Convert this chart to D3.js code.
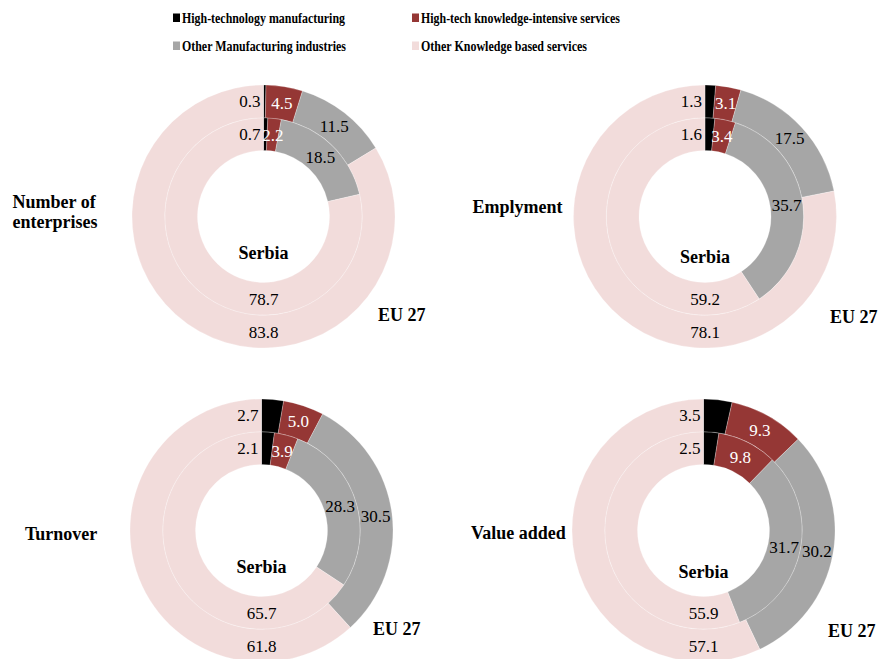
<!DOCTYPE html>
<html>
<head>
<meta charset="utf-8">
<script src="https://cdn.jsdelivr.net/npm/d3@7/dist/d3.min.js"></script>
<style>
    body { margin: 0; background: #fff; }
</style>
</head>
<body>
<div id="chart"></div>
<script>
const categories = [
    "High-technology manufacturing",
    "High-tech knowledge-intensive services",
    "Other Manufacturing industries",
    "Other Knowledge based services"
];
const indicators = ["Number of enterprises", "Emplyment", "Turnover", "Value added"];

// inner ring: Serbia, outer ring: EU 27 (shares in %)
const serbia = [
    [0.7, 2.2, 18.5, 78.7],
    [1.6, 3.4, 35.7, 59.2],
    [2.1, 3.9, 28.3, 65.7],
    [2.5, 9.8, 31.7, 55.9]
];
const eu27 = [
    [0.3, 4.5, 11.5, 83.8],
    [1.3, 3.1, 17.5, 78.1],
    [2.7, 5.0, 30.5, 61.8],
    [3.5, 9.3, 30.2, 57.1]
];

const colors = ["#000000", "#953735", "#a6a6a6", "#f2dcdb"];
const labelColors = ["#000", "#fff", "#000", "#000"];

const width = 879, height = 659;
const rHole = 66, rMid = 98.75, rOuter = 131.5;
const serif = "'Liberation Serif', 'Times New Roman', Times, 'DejaVu Serif', serif";

// panel layout
const panels = [
    {cx: 263.5, cy: 216.5, title: [["Number of", 12.5, 207.5], ["enterprises", 12.5, 227.5]], serbiaDy: 36, eu: [378, 315]},
    {cx: 705,   cy: 216.5, title: [["Emplyment", 472.5, 212.5]], serbiaDy: 40, eu: [830, 317]},
    {cx: 261.5, cy: 530.5, title: [["Turnover", 25, 540]], serbiaDy: 36, eu: [373, 629]},
    {cx: 703.5, cy: 530.5, title: [["Value added", 471, 539]], serbiaDy: 41, eu: [828, 631]}
];

const svg = d3.select("#chart").append("svg")
    .attr("width", width)
    .attr("height", height)
    .style("font-family", serif);

const color = d3.scaleOrdinal().domain(d3.range(categories.length)).range(colors);

const pie = d3.pie().value(d => d).sort(null);
const fmt = d3.format(".1f");

function drawRing(g, values, r0, r1) {
    const arcs = pie(values);
    const arc = d3.arc().innerRadius(r0).outerRadius(r1);
    const n = arcs.length;

    g.append("g").selectAll("path")
        .data(arcs)
        .join("path")
        .attr("d", arc)
        .attr("fill", (d, i) => color(i))
        .attr("stroke", "#fff")
        .attr("stroke-width", 0.25);

    // first slice label sits left of the top, last slice label sits at the bottom
    const pos = (d, i) => {
        if (i === 0) return arc.centroid({startAngle: 0, endAngle: 0});
        if (i === n - 1) return arc.centroid({startAngle: Math.PI, endAngle: Math.PI});
        return arc.centroid(d);
    };

    g.append("g").selectAll("text")
        .data(arcs)
        .join("text")
        .attr("x", (d, i) => i === 0 ? pos(d, i)[0] - 3 : pos(d, i)[0])
        .attr("y", (d, i) => pos(d, i)[1])
        .attr("dy", "0.35em")
        .attr("text-anchor", (d, i) => i === 0 ? "end" : "middle")
        .style("font-family", serif)
        .attr("font-size", 17)
        .attr("fill", (d, i) => labelColors[i])
        .text(d => fmt(d.data));
}

panels.forEach((p, k) => {
    const g = svg.append("g").attr("transform", `translate(${p.cx},${p.cy})`);
    drawRing(g, serbia[k], rHole, rMid);
    drawRing(g, eu27[k], rMid, rOuter);

    g.append("text")
        .attr("y", p.serbiaDy)
        .attr("dy", "0.35em")
        .attr("text-anchor", "middle")
        .style("font-family", serif)
        .attr("font-size", 18)
        .attr("font-weight", "bold")
        .text("Serbia");

    svg.append("text")
        .attr("x", p.eu[0])
        .attr("y", p.eu[1])
        .attr("dy", "0.35em")
        .style("font-family", serif)
        .attr("font-size", 18)
        .attr("font-weight", "bold")
        .text("EU 27");

    p.title.forEach(t => {
        svg.append("text")
            .attr("x", t[1])
            .attr("y", t[2])
            .style("font-family", serif)
            .attr("font-size", 18)
            .attr("font-weight", "bold")
            .text(t[0]);
    });
});

// legend
const legendPos = [[173, 22.5, 163], [412, 22.5, 199], [173, 50.5, 164], [412, 50.5, 166]];
const legend = svg.append("g").selectAll("g")
    .data(categories)
    .join("g")
    .attr("transform", (d, i) => `translate(${legendPos[i][0]},${legendPos[i][1]})`);

legend.append("rect")
    .attr("x", 0)
    .attr("y", -9)
    .attr("width", 7)
    .attr("height", 8.5)
    .attr("fill", (d, i) => color(i));

legend.append("text")
    .attr("x", 9)
    .attr("y", 0)
    .style("font-family", serif)
    .attr("font-size", 14)
    .attr("font-weight", "bold")
    .attr("textLength", (d, i) => legendPos[i][2])
    .attr("lengthAdjust", "spacingAndGlyphs")
    .text(d => d);
</script>
</body>
</html>
